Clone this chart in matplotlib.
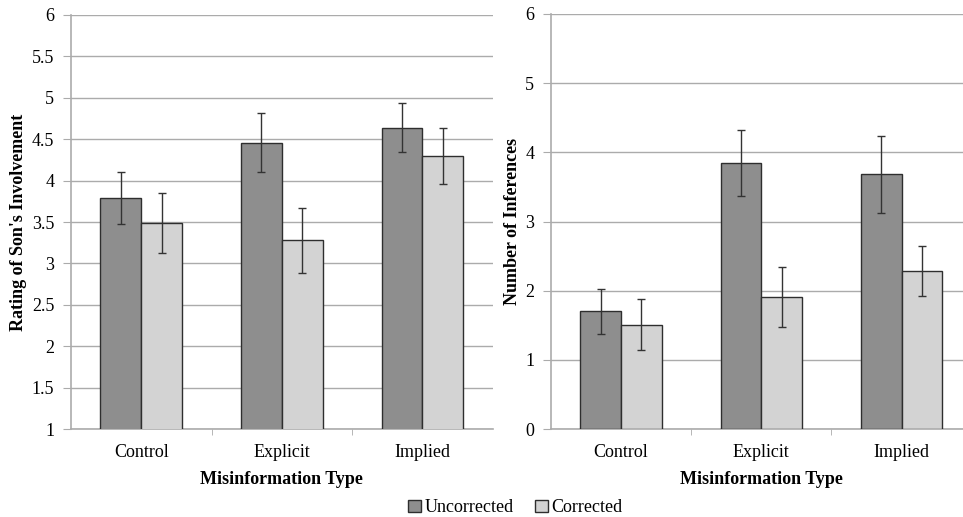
import numpy as np
import matplotlib
matplotlib.use("Agg")
import matplotlib.pyplot as plt

plt.rcParams['font.family'] = ['Liberation Serif', 'DejaVu Serif']

categorias = ["Control", "Explicit", "Implied"]
series = ["Uncorrected", "Corrected"]

# painel esquerdo: rating of son's involvement
rating_unc = [3.79, 4.46, 4.64]
rating_unc_err = [0.31, 0.36, 0.30]
rating_cor = [3.49, 3.28, 4.30]
rating_cor_err = [0.36, 0.39, 0.34]

# painel direito: number of inferences
infer_unc = [1.70, 3.85, 3.68]
infer_unc_err = [0.32, 0.48, 0.56]
infer_cor = [1.51, 1.91, 2.28]
infer_cor_err = [0.37, 0.43, 0.36]

cor_unc = "#8e8e8e"
cor_cor = "#d3d3d3"
cor_borda = "#2e2e2e"
cor_grade = "#ababab"


def desenhar(ax, unc, unc_err, cor, cor_err, ylim, yticks, ylabel, ticklabels, label_x):
    x = np.arange(len(categorias))
    w = 0.29
    ax.bar(x - w / 2, unc, w, color=cor_unc, edgecolor=cor_borda, linewidth=1.0,
           label=series[0], zorder=3)
    ax.bar(x + w / 2, cor, w, color=cor_cor, edgecolor=cor_borda, linewidth=1.0,
           label=series[1], zorder=3)
    ax.errorbar(x - w / 2, unc, yerr=unc_err, fmt='none', ecolor="#333333",
                elinewidth=1.0, capsize=3, capthick=1.0, zorder=4)
    ax.errorbar(x + w / 2, cor, yerr=cor_err, fmt='none', ecolor="#333333",
                elinewidth=1.0, capsize=3, capthick=1.0, zorder=4)
    ax.set_xlim(-0.5, 2.5)
    ax.set_ylim(*ylim)
    ax.set_yticks(yticks)
    ax.set_yticklabels(ticklabels, fontsize=13)
    ax.set_xticks(x)
    ax.set_xticklabels(categorias, fontsize=13)
    ax.set_xticks([0.5, 1.5], minor=True)
    ax.tick_params(axis='x', which='major', length=0, pad=11)
    ax.tick_params(axis='x', which='minor', length=4, color=cor_grade, direction='out')
    ax.tick_params(axis='y', length=6, color=cor_grade, pad=6)
    ax.yaxis.grid(True, color=cor_grade, linewidth=1.0, zorder=0)
    ax.set_axisbelow(True)
    for lado in ['top', 'right']:
        ax.spines[lado].set_visible(False)
    for lado in ['left', 'bottom']:
        ax.spines[lado].set_color(cor_grade)
        ax.spines[lado].set_linewidth(1.2)
    ax.set_xlabel("Misinformation Type", fontsize=13, fontweight='bold', labelpad=7)
    ax.set_ylabel(ylabel, fontsize=13, fontweight='bold')
    ax.yaxis.set_label_coords(label_x, 0.5)


fig = plt.figure(figsize=(9.63, 5.17), dpi=100)
ax1 = fig.add_axes([0.0737, 0.170, 0.438, 0.801])
ax2 = fig.add_axes([0.572, 0.170, 0.437, 0.803])

ticks1 = [1, 1.5, 2, 2.5, 3, 3.5, 4, 4.5, 5, 5.5, 6]
desenhar(ax1, rating_unc, rating_unc_err, rating_cor, rating_cor_err,
         (1, 6), ticks1, "Rating of Son's Involvement",
         [f"{t:g}" for t in ticks1], -0.104)

ticks2 = [0, 1, 2, 3, 4, 5, 6]
desenhar(ax2, infer_unc, infer_unc_err, infer_cor, infer_cor_err,
         (0, 6), ticks2, "Number of Inferences",
         [str(t) for t in ticks2], -0.071)

handles, labels = ax1.get_legend_handles_labels()
fig.legend(handles, labels, loc='lower center', bbox_to_anchor=(0.535, -0.03),
           ncol=2, frameon=False, fontsize=13, handlelength=0.7, handleheight=0.7,
           handletextpad=0.2, columnspacing=1.2)

fig.savefig("out.png", dpi=100)
